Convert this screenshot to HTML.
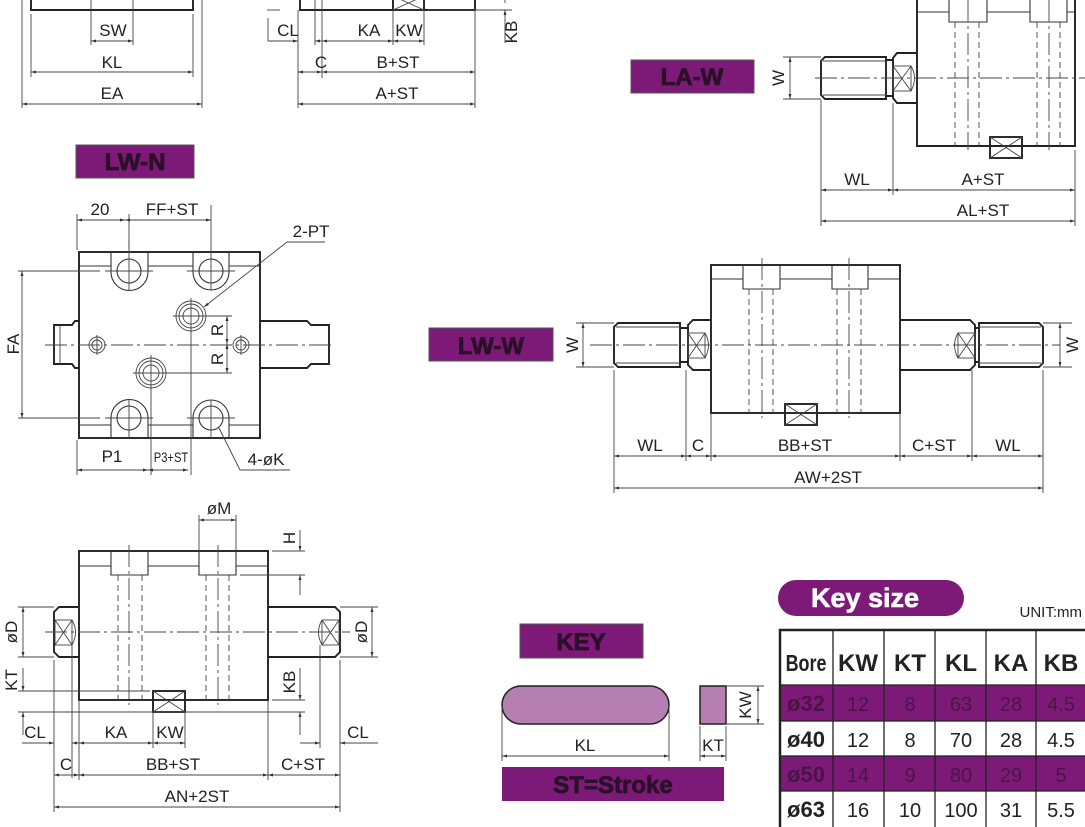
<!DOCTYPE html>
<html><head><meta charset="utf-8"><style>
html,body{margin:0;padding:0;background:#fff;}
svg{display:block;}
text{font-family:"Liberation Sans",sans-serif;fill:#222;}
.t{stroke:#444;stroke-width:0.9;fill:none;}
.k{stroke:#222;stroke-width:1.9;fill:none;}
.m{stroke:#333;stroke-width:1.1;fill:none;}
.d{stroke:#444;stroke-width:0.9;fill:none;stroke-dasharray:6 4;}
.c{stroke:#444;stroke-width:0.9;fill:none;stroke-dasharray:22 4 3 4;}
.a{stroke:#444;stroke-width:0.9;fill:none;marker-start:url(#ar);marker-end:url(#ar);}
.e{stroke:#444;stroke-width:0.9;fill:none;marker-end:url(#ar);}
.lb{font-weight:bold;font-size:24px;fill:#2a1028;stroke:#2a1028;stroke-width:0.8;text-anchor:middle;}
.dt{font-size:17px;text-anchor:middle;}
</style></head><body>
<svg width="1085" height="827" viewBox="0 0 1085 827" xmlns="http://www.w3.org/2000/svg">
<defs>
<marker id="ar" viewBox="0 0 10 10" refX="10" refY="5" markerWidth="9" markerHeight="5" orient="auto-start-reverse" markerUnits="userSpaceOnUse"><path d="M0,2 L10,5 L0,8 Z" fill="#333"/></marker>
</defs>

<!-- ===== top-left fragment ===== -->
<path class="k" d="M31,0 V10 H193 V0"/>
<line class="t" x1="22" y1="0" x2="22" y2="108"/><line class="t" x1="202" y1="0" x2="202" y2="108"/>
<line class="t" x1="31" y1="14" x2="31" y2="77"/><line class="t" x1="193" y1="14" x2="193" y2="77"/>
<line class="t" x1="91" y1="0" x2="91" y2="45"/><line class="t" x1="133" y1="0" x2="133" y2="45"/>
<line class="a" x1="91" y1="41" x2="133" y2="41"/>
<line class="a" x1="31" y1="72" x2="193" y2="72"/>
<line class="a" x1="22" y1="104" x2="202" y2="104"/>
<text class="dt" x="113" y="36">SW</text><text class="dt" x="112" y="68">KL</text><text class="dt" x="112" y="99">EA</text>

<!-- ===== top-middle fragment ===== -->
<path class="k" d="M300,0 V10 H393 M424,10 H475 V0"/>
<rect class="k" x="393" y="-4" width="31" height="14"/><path class="t" d="M393,-4 L424,10 M424,-4 L393,10"/>
<line class="t" x1="298" y1="10" x2="298" y2="108"/><line class="t" x1="322" y1="0" x2="322" y2="78"/>
<line class="t" x1="315" y1="0" x2="315" y2="45"/>
<line class="t" x1="393" y1="10" x2="393" y2="45"/><line class="t" x1="424" y1="10" x2="424" y2="45"/>
<line class="t" x1="475" y1="10" x2="475" y2="108"/>
<line class="t" x1="267" y1="10" x2="280" y2="10"/><line class="t" x1="428" y1="10" x2="512" y2="10"/>
<line class="t" x1="268" y1="41" x2="268" y2="18"/>
<line class="e" x1="268" y1="41" x2="298" y2="41"/>
<line class="e" x1="322" y1="41" x2="315" y2="41"/>
<line class="a" x1="322" y1="41" x2="393" y2="41"/>
<line class="a" x1="393" y1="41" x2="424" y2="41"/>
<line class="a" x1="298" y1="72" x2="322" y2="72"/>
<line class="a" x1="322" y1="72" x2="475" y2="72"/>
<line class="a" x1="298" y1="104" x2="475" y2="104"/>
<line class="e" x1="505" y1="43" x2="505" y2="10"/>
<line class="t" x1="505" y1="0" x2="505" y2="3"/>
<text class="dt" x="288" y="36">CL</text><text class="dt" x="369" y="36">KA</text><text class="dt" x="409" y="36">KW</text>
<text class="dt" x="321" y="68">C</text><text class="dt" x="398" y="68">B+ST</text><text class="dt" x="397" y="99">A+ST</text>
<text class="dt" transform="translate(517,32) rotate(-90)">KB</text>

<!-- ===== LA-W ===== -->
<rect x="631" y="60" width="123" height="33" fill="#7d1a78" stroke="#555" stroke-width="1"/>
<text class="lb" x="692" y="85">LA-W</text>
<path class="k" d="M917,-2 V146 H1075 V-2"/>
<path class="m" d="M917,12 H949 M987,12 H1030 M1067,12 H1075"/>
<path class="m" d="M949,-2 V22 H987 V-2 M1030,-2 V22 H1067 V-2"/>
<path class="d" d="M955,22 V146 M979,22 V146 M1037,22 V146 M1060,22 V146"/>
<path class="c" d="M968,0 V150 M1049,0 V150"/>
<rect class="k" x="990" y="137" width="32" height="21" fill="#fff"/><path class="t" d="M990,137 L1022,158 M1022,137 L990,158"/>
<path class="k" d="M917,53 H897 L893,58 V98 L897,103 H917"/>
<rect class="t" x="893" y="66" width="18" height="25"/><path class="t" d="M893,66 L911,91 M911,66 L893,91 M911,66 Q918,78 911,91"/>
<path class="k" d="M886,60 H893 M886,96 H893"/>
<path class="k" d="M825,57 H886 V99 H825 L821,95 V61 Z"/>
<path class="t" d="M823,61 H886 M823,95 H886"/>
<line class="c" x1="815" y1="78" x2="1085" y2="78"/>
<line class="t" x1="783" y1="57" x2="821" y2="57"/><line class="t" x1="783" y1="99" x2="821" y2="99"/>
<line class="a" x1="790" y1="57" x2="790" y2="99"/>
<text class="dt" transform="translate(784,78) rotate(-90)">W</text>
<line class="t" x1="821" y1="100" x2="821" y2="226"/><line class="t" x1="893" y1="103" x2="893" y2="195"/><line class="t" x1="1075" y1="150" x2="1075" y2="226"/>
<line class="a" x1="821" y1="190" x2="893" y2="190"/><line class="a" x1="893" y1="190" x2="1075" y2="190"/>
<line class="a" x1="821" y1="221" x2="1075" y2="221"/>
<text class="dt" x="857" y="185">WL</text><text class="dt" x="983" y="185">A+ST</text><text class="dt" x="983" y="216">AL+ST</text>

<!-- ===== LW-N ===== -->
<rect x="76" y="145" width="118" height="33" fill="#7d1a78" stroke="#555" stroke-width="1"/>
<text class="lb" x="135" y="170">LW-N</text>
<rect class="k" x="79" y="252" width="181" height="186"/>
<path class="m" d="M79,266 H111 M148,266 H193 M229,266 H260 M79,425 H111 M148,425 H193 M229,425 H260"/>
<path class="m" d="M111,252 V272 A18,18 0 0 0 148,272 V252 M193,252 V272 A18,18 0 0 0 229,272 V252"/>
<path class="m" d="M111,438 V418 A18,18 0 0 1 148,418 V438 M193,438 V418 A18,18 0 0 1 229,418 V438"/>
<circle class="m" cx="129" cy="271" r="12"/><circle class="m" cx="211" cy="271" r="12"/>
<circle class="m" cx="129" cy="418" r="12"/><circle class="m" cx="211" cy="418" r="12"/>
<g class="t"><circle cx="191" cy="316" r="8"/><circle cx="191" cy="316" r="12"/><circle cx="191" cy="316" r="15"/>
<circle cx="151" cy="373" r="8"/><circle cx="151" cy="373" r="12"/><circle cx="151" cy="373" r="15"/>
<circle cx="97" cy="345" r="5"/><circle cx="97" cy="345" r="8"/>
<circle cx="241" cy="345" r="5"/><circle cx="241" cy="345" r="8"/></g>
<path class="k" d="M79,321 H75 L72,325 H54 V364 H72 L75,368 H79"/>
<line class="t" x1="60" y1="325" x2="60" y2="364"/>
<path class="k" d="M260,321 H307 L311,325 H329 V364 H311 L307,368 H260"/>
<line class="c" x1="45" y1="345" x2="335" y2="345"/>
<path class="t" d="M129,240 V290 M211,205 V290 M129,400 V438 M211,400 V438 M105,271 H153 M187,271 H235 M105,418 H153 M187,418 H235"/>
<path class="t" d="M191,298 V475 M151,355 V475 M173,316 H209 M133,373 H169 M97,335 V355 M241,335 V355"/>
<line class="t" x1="18" y1="271" x2="100" y2="271"/><line class="t" x1="18" y1="418" x2="100" y2="418"/>
<line class="a" x1="22" y1="271" x2="22" y2="418"/>
<text class="dt" transform="translate(19,344) rotate(-90)">FA</text>
<line class="t" x1="77" y1="214" x2="77" y2="250"/><line class="t" x1="129" y1="214" x2="129" y2="250"/>
<line class="a" x1="77" y1="220" x2="125" y2="220"/><line class="a" x1="125" y1="220" x2="211" y2="220"/>
<text class="dt" x="100" y="215">20</text><text class="dt" x="172" y="215">FF+ST</text>
<line class="t" x1="209" y1="316" x2="232" y2="316"/><line class="t" x1="169" y1="373" x2="232" y2="373"/>
<line class="a" x1="227" y1="316" x2="227" y2="344"/><line class="a" x1="227" y1="344" x2="227" y2="373"/>
<text class="dt" transform="translate(223,330) rotate(-90)">R</text><text class="dt" transform="translate(223,359) rotate(-90)">R</text>
<line class="t" x1="287" y1="242" x2="325" y2="242"/><line class="e" x1="287" y1="242" x2="204" y2="307"/>
<text class="dt" x="311" y="237">2-PT</text>
<line class="t" x1="240" y1="470" x2="290" y2="470"/><line class="t" x1="240" y1="470" x2="219" y2="428"/>
<text class="dt" x="266" y="465">4-øK</text>
<line class="t" x1="77" y1="440" x2="77" y2="475"/>
<line class="a" x1="77" y1="470" x2="148" y2="470"/><line class="a" x1="148" y1="470" x2="188" y2="470"/>
<text class="dt" x="112" y="462">P1</text>
<text class="dt" x="171" y="462" style="font-size:14px" transform="translate(171,462) scale(0.8,1) translate(-171,-462)">P3+ST</text>

<!-- ===== LW-W ===== -->
<rect x="429" y="328" width="124" height="33" fill="#7d1a78" stroke="#555" stroke-width="1"/>
<text class="lb" x="491" y="354">LW-W</text>
<rect class="k" x="711" y="265" width="189" height="148"/>
<path class="m" d="M711,279 H743 M780,279 H832 M868,279 H900"/>
<path class="m" d="M743,265 V289 H780 V265 M832,265 V289 H868 V265"/>
<path class="d" d="M749,289 V413 M773,289 V413 M837,289 V413 M861,289 V413"/>
<path class="c" d="M762,258 V418 M849,258 V418"/>
<rect class="k" x="785" y="404" width="32" height="21" fill="#fff"/><path class="t" d="M785,404 L817,425 M817,404 L785,425"/>
<path class="k" d="M711,320 H693 L688,325 V365 L693,370 H711"/>
<rect class="t" x="688" y="333" width="17" height="25"/><path class="t" d="M688,333 L705,358 M705,333 L688,358 M705,333 Q712,345 705,358"/>
<path class="k" d="M680,328 H688 M680,362 H688 M618,323 H680 V367 H618 L614,363 V327 Z"/>
<path class="t" d="M616,327 H680 M616,363 H680"/>
<path class="k" d="M900,320 H970 L975,325 V365 L970,370 H900"/>
<rect class="t" x="958" y="333" width="17" height="25"/><path class="t" d="M958,333 L975,358 M975,333 L958,358 M958,333 Q951,345 958,358"/>
<path class="k" d="M975,328 H979 M975,362 H979 M979,323 H1039 L1043,327 V363 L1039,367 H979 Z"/>
<path class="t" d="M979,327 H1041 M979,363 H1041"/>
<line class="c" x1="590" y1="345" x2="1060" y2="345"/>
<line class="t" x1="576" y1="323" x2="614" y2="323"/><line class="t" x1="576" y1="367" x2="614" y2="367"/>
<line class="a" x1="583" y1="323" x2="583" y2="367"/>
<text class="dt" transform="translate(578,345) rotate(-90)">W</text>
<line class="t" x1="1043" y1="323" x2="1072" y2="323"/><line class="t" x1="1043" y1="367" x2="1072" y2="367"/>
<line class="a" x1="1060" y1="323" x2="1060" y2="367"/>
<text class="dt" transform="translate(1078,345) rotate(-90)">W</text>
<path class="t" d="M614,370 V493 M686,370 V461 M711,413 V461 M900,413 V461 M972,370 V461 M1043,370 V493"/>
<line class="a" x1="614" y1="456" x2="686" y2="456"/><line class="a" x1="686" y1="456" x2="711" y2="456"/>
<line class="a" x1="711" y1="456" x2="900" y2="456"/><line class="a" x1="900" y1="456" x2="972" y2="456"/>
<line class="a" x1="972" y1="456" x2="1043" y2="456"/>
<line class="a" x1="614" y1="488" x2="1043" y2="488"/>
<text class="dt" x="650" y="451">WL</text><text class="dt" x="698" y="451">C</text><text class="dt" x="805" y="451">BB+ST</text>
<text class="dt" x="934" y="451">C+ST</text><text class="dt" x="1008" y="451">WL</text><text class="dt" x="828" y="483">AW+2ST</text>

<!-- ===== bottom-left ===== -->
<rect class="k" x="79" y="551" width="189" height="149"/>
<path class="m" d="M79,566 H111 M148,566 H199 M236,566 H268"/>
<path class="m" d="M111,551 V575 H148 V551 M199,551 V575 H236 V551"/>
<path class="d" d="M118,575 V700 M142,575 V700 M206,575 V700 M229,575 V700"/>
<path class="c" d="M129,545 V705 M218,545 V705"/>
<rect class="k" x="153" y="691" width="32" height="21" fill="#fff"/><path class="t" d="M153,691 L185,712 M185,691 L153,712"/>
<path class="k" d="M79,607 H59 L54,612 V652 L59,657 H79"/>
<rect class="t" x="55" y="620" width="17" height="25"/><path class="t" d="M55,620 L72,645 M72,620 L55,645 M72,620 Q79,632 72,645"/>
<path class="k" d="M268,607 H335 L340,612 V652 L335,657 H268"/>
<rect class="t" x="322" y="620" width="17" height="25"/><path class="t" d="M322,620 L339,645 M339,620 L322,645 M322,620 Q315,632 322,645"/>
<line class="c" x1="45" y1="632" x2="350" y2="632"/>
<line class="t" x1="199" y1="515" x2="199" y2="551"/><line class="t" x1="236" y1="515" x2="236" y2="551"/>
<line class="a" x1="199" y1="520" x2="236" y2="520"/>
<text class="dt" x="219" y="514">øM</text>
<line class="t" x1="272" y1="551" x2="305" y2="551"/><line class="t" x1="240" y1="575" x2="305" y2="575"/>
<line class="e" x1="300" y1="530" x2="300" y2="551"/><line class="e" x1="300" y1="595" x2="300" y2="575"/>
<text class="dt" transform="translate(295,538) rotate(-90)">H</text>
<line class="t" x1="18" y1="607" x2="54" y2="607"/><line class="t" x1="18" y1="657" x2="54" y2="657"/>
<line class="a" x1="23" y1="607" x2="23" y2="657"/>
<text class="dt" transform="translate(17,632) rotate(-90)">øD</text>
<line class="t" x1="340" y1="607" x2="378" y2="607"/><line class="t" x1="340" y1="657" x2="378" y2="657"/>
<line class="a" x1="372" y1="607" x2="372" y2="657"/>
<text class="dt" transform="translate(367,632) rotate(-90)">øD</text>
<line class="t" x1="18" y1="691" x2="150" y2="691"/><line class="t" x1="18" y1="712" x2="305" y2="712"/>
<line class="e" x1="23" y1="668" x2="23" y2="691"/><line class="e" x1="23" y1="735" x2="23" y2="712"/>
<text class="dt" transform="translate(17,680) rotate(-90)">KT</text>
<line class="t" x1="272" y1="700" x2="305" y2="700"/>
<line class="e" x1="300" y1="668" x2="300" y2="700"/><line class="e" x1="300" y1="735" x2="300" y2="712"/>
<text class="dt" transform="translate(295,682) rotate(-90)">KB</text>
<path class="t" d="M54,660 V812 M72,645 V778 M79,700 V780 M153,712 V748 M185,712 V748 M268,700 V780 M320,645 V748 M340,660 V812"/>
<line class="e" x1="22" y1="743" x2="54" y2="743"/><line class="e" x1="79" y1="743" x2="72" y2="743"/>
<line class="a" x1="79" y1="743" x2="153" y2="743"/><line class="a" x1="153" y1="743" x2="185" y2="743"/>
<line class="e" x1="300" y1="743" x2="320" y2="743"/><line class="e" x1="378" y1="743" x2="340" y2="743"/>
<line class="a" x1="54" y1="775" x2="79" y2="775"/><line class="a" x1="79" y1="775" x2="268" y2="775"/><line class="a" x1="268" y1="775" x2="340" y2="775"/>
<line class="a" x1="54" y1="807" x2="340" y2="807"/>
<text class="dt" x="35" y="738">CL</text><text class="dt" x="116" y="738">KA</text><text class="dt" x="170" y="738">KW</text><text class="dt" x="358" y="738">CL</text>
<text class="dt" x="66" y="770">C</text><text class="dt" x="173" y="770">BB+ST</text><text class="dt" x="303" y="770">C+ST</text>
<text class="dt" x="197" y="802">AN+2ST</text>

<!-- ===== KEY ===== -->
<rect x="520" y="624" width="123" height="34" fill="#7d1a78" stroke="#555" stroke-width="1"/>
<text class="lb" x="581" y="650">KEY</text>
<rect x="502" y="686" width="167" height="38" rx="19" fill="#b67fb1" stroke="#222" stroke-width="1.5"/>
<rect x="700" y="686" width="26" height="38" fill="#b67fb1" stroke="#222" stroke-width="1.5"/>
<line class="t" x1="726" y1="686" x2="764" y2="686"/><line class="t" x1="726" y1="724" x2="764" y2="724"/>
<line class="a" x1="758" y1="686" x2="758" y2="724"/>
<text class="dt" transform="translate(751,705) rotate(-90)">KW</text>
<line class="t" x1="502" y1="706" x2="502" y2="761"/><line class="t" x1="669" y1="706" x2="669" y2="761"/>
<line class="a" x1="502" y1="756" x2="669" y2="756"/>
<text class="dt" x="585" y="751">KL</text>
<line class="t" x1="700" y1="726" x2="700" y2="761"/><line class="t" x1="726" y1="726" x2="726" y2="761"/>
<line class="a" x1="700" y1="756" x2="726" y2="756"/>
<text class="dt" x="713" y="751">KT</text>
<rect x="502" y="767" width="222" height="34" fill="#7d1a78"/>
<text class="lb" x="613" y="793">ST=Stroke</text>

<!-- ===== Key size table ===== -->
<rect x="778" y="580" width="186" height="36" rx="18" fill="#7d1a78"/>
<text x="865" y="607" style="font-weight:bold;font-size:27px;fill:#fff;stroke:#fff;stroke-width:0.6;text-anchor:middle">Key size</text>
<text x="1082" y="617" style="font-size:15px;text-anchor:end">UNIT:mm</text>
<rect x="780" y="685" width="305" height="36" fill="#7d1a78"/>
<rect x="780" y="756" width="305" height="35" fill="#7d1a78"/>
<g stroke="#222" stroke-width="1.3" fill="none">
<path d="M780,685 H1085 M780,721 H1085 M780,756 H1085 M780,791 H1085"/>
<path d="M833,630 V827 M884,630 V827 M935,630 V827 M986,630 V827 M1036,630 V827"/>
</g>
<path d="M780,827 V630 H1085" stroke="#222" stroke-width="2.5" fill="none"/>
<g style="font-weight:bold;font-size:24px;text-anchor:middle">
<text x="806" y="671" style="font-size:23px" transform="translate(806,671) scale(0.78,1) translate(-806,-671)">Bore</text>
<text x="858" y="671">KW</text><text x="910" y="671">KT</text><text x="961" y="671">KL</text><text x="1011" y="671">KA</text><text x="1061" y="671">KB</text>
</g>
<g style="font-size:20px;text-anchor:middle">
<text x="806" y="711" style="font-weight:bold;font-size:22px;fill:#4a1546">ø32</text>
<text x="858" y="711" style="fill:#4a1546">12</text><text x="910" y="711" style="fill:#4a1546">8</text><text x="961" y="711" style="fill:#4a1546">63</text><text x="1011" y="711" style="fill:#4a1546">28</text><text x="1061" y="711" style="fill:#4a1546">4.5</text>
<text x="806" y="747" style="font-weight:bold;font-size:22px">ø40</text>
<text x="858" y="747">12</text><text x="910" y="747">8</text><text x="961" y="747">70</text><text x="1011" y="747">28</text><text x="1061" y="747">4.5</text>
<text x="806" y="782" style="font-weight:bold;font-size:22px;fill:#4a1546">ø50</text>
<text x="858" y="782" style="fill:#4a1546">14</text><text x="910" y="782" style="fill:#4a1546">9</text><text x="961" y="782" style="fill:#4a1546">80</text><text x="1011" y="782" style="fill:#4a1546">29</text><text x="1061" y="782" style="fill:#4a1546">5</text>
<text x="806" y="817" style="font-weight:bold;font-size:22px">ø63</text>
<text x="858" y="817">16</text><text x="910" y="817">10</text><text x="961" y="817">100</text><text x="1011" y="817">31</text><text x="1061" y="817">5.5</text>
</g>
</svg>
</body></html>
